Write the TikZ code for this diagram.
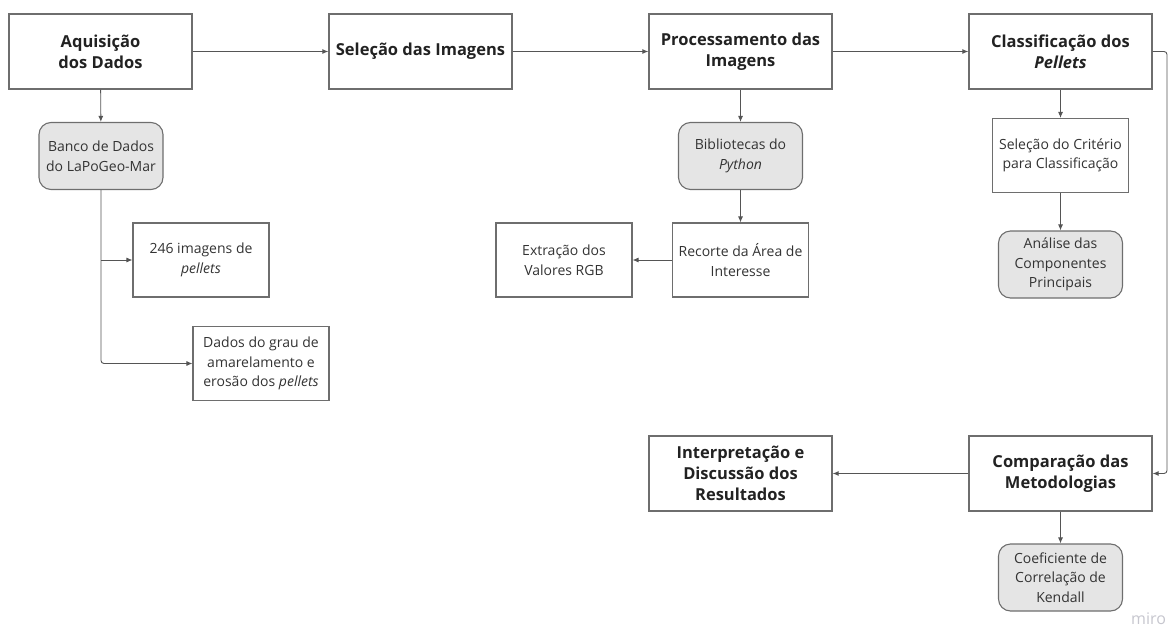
\documentclass[tikz,border=0pt]{standalone}
\usepackage{fontspec}
\setmainfont{Open Sans}
\usetikzlibrary{arrows.meta}
\definecolor{boxline}{HTML}{6E6E6E}
\definecolor{conline}{HTML}{555555}
\definecolor{boxfill}{HTML}{E5E5E5}
\definecolor{txtdark}{HTML}{222222}
\definecolor{txtreg}{HTML}{333333}
\definecolor{mirogray}{HTML}{C6C6CE}
\tikzset{
  mainbox/.style={draw=boxline, line width=1.3pt, fill=white, minimum width=183pt, minimum height=75pt,
    inner sep=0pt, align=center, text=txtdark, font=\fontsize{16.5}{21}\selectfont\bfseries},
  subbox/.style={draw=boxline, line width=1.1pt, fill=white, minimum width=136pt, minimum height=74pt,
    inner sep=0pt, align=center, text=txtreg, font=\fontsize{14}{19.5}\selectfont},
  roundbox/.style={draw=boxline, line width=1.1pt, fill=boxfill, rounded corners=12pt, minimum width=124pt,
    minimum height=67pt, inner sep=0pt, align=center, text=txtreg, font=\fontsize{14}{19.5}\selectfont},
  conn/.style={draw=conline, line width=0.9pt, -{Latex[length=6pt,width=5pt]}},
}
\begin{document}
\begin{tikzpicture}[x=1pt,y=-1pt]
\useasboundingbox (0,0) rectangle (1170,626);
% main boxes
\node[mainbox] (aq) at (100.5,51.5) {Aquisição\\dos Dados};
\node[mainbox] (sel) at (420.5,51.5) {Seleção das Imagens};
\node[mainbox] (proc) at (740.5,51.5) {Processamento das\\Imagens};
\node[mainbox] (cla) at (1060.5,51.5) {Classificação dos\\\textit{Pellets}};
\node[mainbox] (interp) at (740.5,473.5) {Interpretação e\\Discussão dos\\Resultados};
\node[mainbox] (comp) at (1060.5,473.5) {Comparação das\\Metodologias};
% rounded grey boxes
\node[roundbox] (banco) at (101,156) {Banco de Dados\\do LaPoGeo-Mar};
\node[roundbox] (bib) at (740.5,156) {Bibliotecas do\\\textit{Python}};
\node[roundbox] (ana) at (1060.5,264.5) {Análise das\\Componentes\\Principais};
\node[roundbox] (coef) at (1060.5,577.5) {Coeficiente de\\Correlação de\\Kendall};
% white sub boxes
\node[subbox] (img) at (201,260) {246 imagens de\\\textit{pellets}};
\node[subbox] (dados) at (261,363.5) {Dados do grau de\\amarelamento e\\erosão dos \textit{pellets}};
\node[subbox] (extr) at (564,260) {Extração dos\\Valores RGB};
\node[subbox] (rec) at (740.5,260) {Recorte da Área de\\Interesse};
\node[subbox] (crit) at (1060.5,155.5) {Seleção do Critério\\para Classificação};
% connectors
\draw[conn] (aq) -- (sel);
\draw[conn] (sel) -- (proc);
\draw[conn] (proc) -- (cla);
\draw[conn] (aq) -- (banco);
\draw[conn, rounded corners=3pt] (banco.south) |- (dados.west);
\draw[conn] (banco.south |- img.west) -- (img.west);
\draw[conn] (proc) -- (bib);
\draw[conn] (bib) -- (rec);
\draw[conn] (rec) -- (extr);
\draw[conn] (cla) -- (crit);
\draw[conn] (crit) -- (ana);
\coordinate (bend) at (1167,51.5);
\draw[conn, rounded corners=3pt] (cla.east) -- (bend) |- (comp.east);
\draw[conn] (comp) -- (interp);
\draw[conn] (comp) -- (coef);
% watermark
\node[anchor=base west, inner sep=0pt, text=mirogray, font=\fontsize{16}{16}\selectfont] (miro) at (1131,624) {miro};
\end{tikzpicture}
\end{document}
